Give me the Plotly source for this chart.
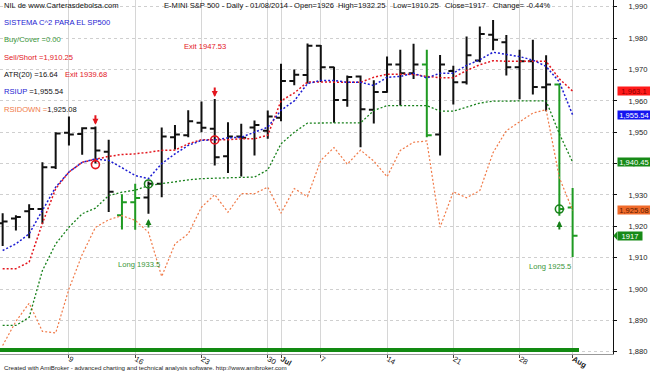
import plotly.graph_objects as go

# ---------------- data ----------------
dates = ["Jun 2", "Jun 3", "Jun 4", "Jun 5", "Jun 6", "Jun 9", "Jun 10", "Jun 11", "Jun 12", "Jun 13",
         "Jun 16", "Jun 17", "Jun 18", "Jun 19", "Jun 20", "Jun 23", "Jun 24", "Jun 25", "Jun 26", "Jun 27",
         "Jun 30", "Jul 1", "Jul 2", "Jul 3", "Jul 7", "Jul 8", "Jul 9", "Jul 10", "Jul 11", "Jul 14",
         "Jul 15", "Jul 16", "Jul 17", "Jul 18", "Jul 21", "Jul 22", "Jul 23", "Jul 24", "Jul 25", "Jul 28",
         "Jul 29", "Jul 30", "Jul 31", "Aug 1"]

opens = [1921.0, 1922.5, 1924.8, 1925.5, 1938.8, 1949.8, 1949.4, 1951.3, 1943.8, 1923.5,
         1927.7, 1929.2, 1933.6, 1948.4, 1949.0, 1953.0, 1951.1, 1942.3, 1948.6, 1951.5,
         1950.5, 1954.6, 1966.3, 1968.2, 1977.6, 1970.7, 1960.3, 1967.8, 1957.2, 1962.8,
         1971.6, 1968.8, 1971.6, 1949.3, 1969.5, 1965.9, 1972.9, 1981.1, 1978.7, 1970.7,
         1972.6, 1964.3, 1965.2, 1926.0]
highs = [1924.2, 1923.5, 1927.0, 1940.4, 1950.0, 1955.0, 1951.6, 1951.8, 1947.6, 1930.2,
         1933.6, 1934.3, 1951.5, 1952.3, 1957.0, 1959.8, 1960.6, 1953.2, 1952.7, 1953.7,
         1956.9, 1971.8, 1970.0, 1978.3, 1977.8, 1970.9, 1968.1, 1968.1, 1966.6, 1974.1,
         1976.3, 1978.2, 1976.3, 1974.6, 1971.2, 1980.5, 1983.7, 1985.8, 1981.0, 1976.3,
         1979.5, 1974.5, 1965.5, 1932.25]
lows = [1913.7, 1918.7, 1916.2, 1920.8, 1938.3, 1945.8, 1942.8, 1940.0, 1924.6, 1919.0,
        1918.9, 1924.0, 1929.3, 1944.5, 1948.4, 1950.0, 1939.4, 1937.0, 1935.9, 1942.6,
        1947.9, 1953.5, 1965.0, 1965.5, 1966.0, 1953.0, 1958.1, 1945.2, 1952.8, 1962.6,
        1958.5, 1967.0, 1948.4, 1942.6, 1958.8, 1965.2, 1972.3, 1976.1, 1968.1, 1960.5,
        1962.0, 1956.7, 1923.4, 1910.25]
closes = [1921.5, 1923.0, 1925.5, 1938.8, 1949.6, 1949.3, 1951.3, 1944.2, 1931.0, 1927.7,
          1929.0, 1933.6, 1948.6, 1949.3, 1953.5, 1951.4, 1942.0, 1948.6, 1948.2, 1952.3,
          1955.0, 1966.3, 1968.3, 1977.6, 1970.7, 1960.3, 1967.6, 1957.3, 1962.8, 1971.6,
          1968.8, 1971.6, 1949.0, 1971.6, 1965.9, 1974.5, 1981.3, 1979.5, 1970.7, 1972.6,
          1964.4, 1965.2, 1925.5, 1917.0]
green_bars = [9, 10, 32, 42, 43]

sell_line = [1906.5, 1906.5, 1908.6, 1921.0, 1932.0, 1937.3, 1940.4, 1941.3, 1942.3, 1942.9,
             1943.1, 1943.6, 1944.2, 1944.3, 1946.3, 1947.6, 1947.6, 1947.6, 1947.9, 1947.9,
             1949.0, 1960.0, 1962.5, 1966.0, 1966.0, 1965.9, 1965.9, 1965.9, 1967.5, 1968.5,
             1968.5, 1968.4, 1967.8, 1967.4, 1967.4, 1969.7, 1971.5, 1972.8, 1972.6, 1972.6,
             1972.6, 1972.6, 1967.0, 1963.1]
rsiup = [1912.3, 1914.4, 1917.6, 1925.0, 1932.5, 1937.3, 1940.4, 1941.5, 1941.0, 1938.7,
         1936.2, 1935.2, 1940.0, 1943.1, 1945.8, 1947.4, 1947.6, 1948.2, 1948.4, 1950.0,
         1951.6, 1957.0, 1960.0, 1965.5, 1966.5, 1966.5, 1965.9, 1965.9, 1964.9, 1967.5,
         1967.8, 1968.8, 1967.3, 1968.8, 1968.8, 1971.3, 1973.1, 1975.5, 1974.8, 1974.1,
         1973.0, 1971.0, 1966.0, 1955.54]
stop_line = [1888.4, 1888.4, 1891.0, 1905.9, 1914.4, 1919.7, 1924.0, 1925.8, 1929.8, 1930.9,
             1931.5, 1933.0, 1933.6, 1934.3, 1934.8, 1935.2, 1935.4, 1935.5, 1935.6, 1935.7,
             1938.0, 1946.3, 1950.0, 1952.9, 1953.0, 1953.0, 1953.0, 1953.0, 1956.9, 1958.5,
             1958.5, 1958.5, 1958.5, 1956.7, 1956.7, 1958.0, 1959.3, 1959.9, 1960.0, 1960.0,
             1960.0, 1960.0, 1949.5, 1940.45]
rsidown = [1882.0, 1889.7, 1895.5, 1886.5, 1886.0, 1900.0, 1911.0, 1919.7, 1922.1, 1923.4,
           1921.9, 1918.1, 1904.0, 1914.4, 1917.6, 1926.1, 1930.1, 1924.5, 1930.4, 1930.4,
           1932.5, 1924.2, 1932.0, 1929.5, 1941.0, 1945.1, 1939.8, 1944.3, 1940.8, 1935.8,
           1944.2, 1946.8, 1947.2, 1919.7, 1931.0, 1929.1, 1931.4, 1943.5, 1950.5, 1953.3,
           1956.1, 1957.2, 1935.5, 1925.08]
ribbon = [1] * len(dates)

sell_idx = [7, 16]
sell_px = [1939.68, 1947.53]
buy_idx = [11, 42]
buy_px = [1933.5, 1925.5]

tick_idx = [5, 10, 15, 20, 21, 24, 29, 34, 39, 43]
tick_text = ["9", "16", "23", "30", "<b>Jul</b>", "7", "14", "21", "28", "<b>Aug</b>"]
y_ticks = list(range(1880, 2000, 10))

atr20 = 16.64
buy_cover = 0.00

# ---------------- styling ----------------
W, H = 650, 371
ML, MR, MT, MB = 0, 37, 0, 17
PW, PH = W - ML - MR, H - MT - MB
FONT = "Liberation Sans, Arial, sans-serif"
FS = 7.6
RED, BLUE, GREEN, ORANGE = "#e3161e", "#1c1cd2", "#17801a", "#f07a48"
TXT_GREEN = "#3a963a"
DOT = "2px,2px"

def px_x(p):
    return (p - ML) / PW

def px_y(p):
    return 1 - (p - MT) / PH

n = len(dates)
idx = list(range(n))
fig = go.Figure()

# ribbon at the bottom (own scale)
fig.add_trace(go.Bar(x=idx, y=ribbon, base=0.65, width=1.0, marker=dict(color="#128a12", line=dict(width=0)),
                     yaxis="y2", hoverinfo="skip", showlegend=False))

for vals, col, w in [(rsidown, ORANGE, 1.2), (stop_line, GREEN, 1.3), (sell_line, RED, 1.5), (rsiup, BLUE, 1.5)]:
    fig.add_trace(go.Scatter(x=idx, y=vals, mode="lines", line=dict(color=col, width=w, dash=DOT),
                             hoverinfo="skip", showlegend=False))

for group, col in [([i for i in idx if i not in green_bars], "#111111"), (green_bars, "#1f9a22")]:
    fig.add_trace(go.Ohlc(x=group, open=[opens[i] for i in group], high=[highs[i] for i in group],
                          low=[lows[i] for i in group], close=[closes[i] for i in group],
                          increasing=dict(line=dict(color=col, width=2)),
                          decreasing=dict(line=dict(color=col, width=2)),
                          tickwidth=0.37, hoverinfo="skip", showlegend=False))

fig.add_trace(go.Scatter(x=sell_idx, y=sell_px, mode="markers",
                         marker=dict(symbol="circle-open", size=8, color=RED, line=dict(width=1.6)),
                         hoverinfo="skip", showlegend=False))
fig.add_trace(go.Scatter(x=buy_idx, y=buy_px, mode="markers",
                         marker=dict(symbol="circle-open", size=8, color=GREEN, line=dict(width=1.6)),
                         hoverinfo="skip", showlegend=False))

ann = []
# arrows
for i in sell_idx:
    ann.append(dict(x=i, y=highs[i] + 0.6, xref="x", yref="y", text="", showarrow=True, ax=0, ay=-11,
                    arrowhead=2, arrowsize=0.6, arrowwidth=2, arrowcolor=RED, standoff=0))
for i in buy_idx:
    ann.append(dict(x=i, y=lows[i] - 1.7, xref="x", yref="y", text="", showarrow=True, ax=0, ay=10,
                    arrowhead=2, arrowsize=0.6, arrowwidth=2, arrowcolor=GREEN, standoff=0))
# exit / long texts
for i, p in zip(sell_idx, sell_px):
    ann.append(dict(x=i - 0.7, y=highs[i] + 16.6, xref="x", yref="y", text=f"Exit {p:g}", showarrow=False,
                    font=dict(color=RED, size=FS, family=FONT), xanchor="center", yanchor="middle"))
for i, p in zip(buy_idx, buy_px):
    ann.append(dict(x=i - 0.7, y=lows[i] - 16.2, xref="x", yref="y", text=f"Long {p:g}", showarrow=False,
                    font=dict(color=TXT_GREEN, size=FS, family=FONT), xanchor="center", yanchor="middle"))

# header texts
chg = (closes[-1] - closes[-2]) / closes[-2] * 100
header = [
    (2, "NIL de www.Carterasdebolsa.com"),
    (162, "E-MINI S&P 500 - Daily - 01/08/2014 -"),
    (292, f"Open={opens[-1]:g}"),
    (336, f"High={highs[-1]:g}"),
    (391, f"Low={lows[-1]:g}"),
    (443, f"Close={closes[-1]:g}"),
    (491, f"Change= {chg:.2f}%"),
]
for x0, t in header:
    ann.append(dict(x=px_x(x0), y=px_y(5.7), xref="paper", yref="paper", text=t, showarrow=False,
                    font=dict(color="#111", size=FS, family=FONT), xanchor="left", yanchor="middle"))

legend = [
    (22.7, f"<span style='color:{BLUE}'>SISTEMA C^2 PARA EL SP500</span>"),
    (40.0, f"<span style='color:{TXT_GREEN}'>Buy/Cover =0.00</span>"),
    (57.3, f"<span style='color:{RED}'>Sell/Short ={lows[-1]:,.2f}</span>"),
    (74.7, f"ATR(20) ={atr20:.2f}"),
    (91.7, f"<span style='color:{BLUE}'>RSIUP</span> ={rsiup[-1]:,.2f}"),
    (109.0, f"<span style='color:{ORANGE}'>RSIDOWN =</span>{rsidown[-1]:,.2f}"),
]
for yy, t in legend:
    ann.append(dict(x=px_x(2), y=px_y(yy), xref="paper", yref="paper", text=t, showarrow=False,
                    font=dict(color="#111", size=FS, family=FONT), xanchor="left", yanchor="middle"))

ann.append(dict(x=px_x(2), y=px_y(367), xref="paper", yref="paper",
                text="Created with AmiBroker - advanced charting and technical analysis software. http://www.amibroker.com",
                showarrow=False, font=dict(color="#222", size=6.2, family=FONT), xanchor="left", yanchor="middle"))

# right-axis value labels
for val, txt, bg, fc in [(sell_line[-1], f"{sell_line[-1]:,.1f}", "#ff1a1a", "#8a0000"),
                         (rsiup[-1], f"{rsiup[-1]:,.2f}", "#1414f0", "white"),
                         (stop_line[-1], f"{stop_line[-1]:,.2f}", "#178a17", "white"),
                         (rsidown[-1], f"{rsidown[-1]:,.2f}", "#f06a2a", "#5a1a00")]:
    ann.append(dict(x=px_x(616.5), y=val, xref="paper", yref="y", text=txt, showarrow=False, bgcolor=bg,
                    font=dict(color=fc, size=FS, family=FONT), xanchor="left", yanchor="middle",
                    width=32, height=8, borderpad=0, align="center"))
ann.append(dict(x=px_x(617), y=closes[-1], xref="paper", yref="y", text=f"{closes[-1]:g}", showarrow=False,
                bgcolor="#178a17", font=dict(color="white", size=FS, family=FONT), xanchor="left",
                yanchor="middle", width=24, height=8, borderpad=0, align="center"))

shapes = [dict(type="path", xref="paper", yref="y",
               path=f"M {px_x(613.3)},{closes[-1]} L {px_x(617.2)},{closes[-1] + 1.35} L {px_x(617.2)},{closes[-1] - 1.35} Z",
               fillcolor="#178a17", line=dict(width=0))]

fig.update_layout(
    width=W, height=H, autosize=False,
    margin=dict(l=ML, r=MR, t=MT, b=MB, pad=0, autoexpand=False),
    paper_bgcolor="white", plot_bgcolor="white",
    showlegend=False, hovermode=False,
    font=dict(family=FONT, size=FS, color="#222"),
    annotations=ann, shapes=shapes,
    xaxis=dict(range=[-0.2, -0.2 + PW / 13.255], tickvals=tick_idx, ticktext=tick_text,
               ticks="outside", ticklen=3, tickcolor="#444", tickwidth=1,
               ticklabelposition="outside right", ticklabelstandoff=-3,
               tickfont=dict(size=FS, color="#222", family=FONT),
               showgrid=True, gridcolor="#d6d6d6", gridwidth=1, automargin=False,
               showline=True, linecolor="#999999", linewidth=1, zeroline=False,
               rangeslider=dict(visible=False), fixedrange=True),
    yaxis=dict(side="right", range=[1879.3, 1879.3 + PH / 3.137], tickvals=y_ticks,
               ticktext=[f"{v:,}" for v in y_ticks],
               ticks="outside", ticklen=3, tickcolor="#111", ticklabelstandoff=10,
               tickfont=dict(size=FS, color="#222", family=FONT), automargin=False,
               showgrid=True, gridcolor="#cfcfcf", griddash="dot", gridwidth=1,
               showline=True, linecolor="#111", linewidth=1, mirror=True, zeroline=False, fixedrange=True),
    yaxis2=dict(overlaying="y", range=[0, 100], visible=False, fixedrange=True),
    bargap=0,
)

fig.write_html("out.html", config={"displayModeBar": False},
               post_script="document.body.style.margin='0px';document.body.style.overflow='hidden';")
